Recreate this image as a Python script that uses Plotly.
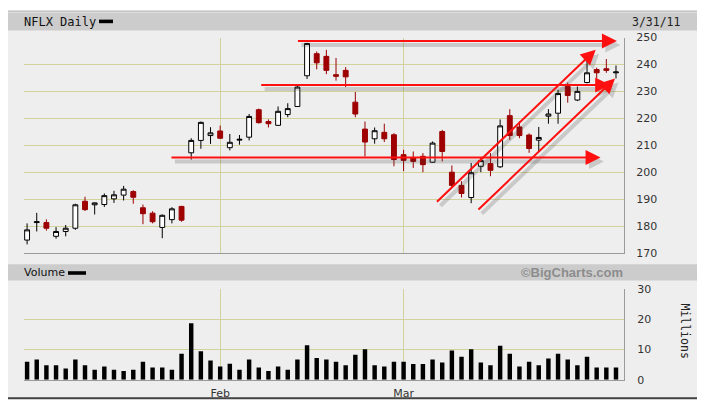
import plotly.graph_objects as go

# ---------------- data ----------------
dates = ["2011-01-03","2011-01-04","2011-01-05","2011-01-06","2011-01-07","2011-01-10","2011-01-11",
         "2011-01-12","2011-01-13","2011-01-14","2011-01-18","2011-01-19","2011-01-20","2011-01-21",
         "2011-01-24","2011-01-25","2011-01-26","2011-01-27","2011-01-28","2011-01-31",
         "2011-02-01","2011-02-02","2011-02-03","2011-02-04","2011-02-07","2011-02-08","2011-02-09",
         "2011-02-10","2011-02-11","2011-02-14","2011-02-15","2011-02-16","2011-02-17","2011-02-18",
         "2011-02-22","2011-02-23","2011-02-24","2011-02-25","2011-02-28",
         "2011-03-01","2011-03-02","2011-03-03","2011-03-04","2011-03-07","2011-03-08","2011-03-09",
         "2011-03-10","2011-03-11","2011-03-14","2011-03-15","2011-03-16","2011-03-17","2011-03-18",
         "2011-03-21","2011-03-22","2011-03-23","2011-03-24","2011-03-25","2011-03-28","2011-03-29",
         "2011-03-30","2011-03-31"]

opens  = [174.8,181.3,181.3,176.2,178.0,179.2,189.2,187.9,188.0,190.1,191.5,192.8,186.8,184.8,179.5,182.4,187.3,
          207.2,211.8,213.6,215.3,209.1,211.9,213.0,223.2,218.8,217.4,221.4,224.4,235.8,244.0,243.0,236.2,237.8,
          226.0,216.0,212.4,214.8,213.9,206.5,205.3,205.9,203.7,215.1,200.0,195.1,190.6,202.2,203.2,202.0,
          221.0,216.8,213.8,211.9,220.8,221.9,231.8,226.8,233.3,238.1,238.4,236.9]
highs  = [181.0,184.9,182.5,179.6,180.4,188.3,190.9,188.8,192.1,193.1,194.9,193.3,188.0,185.5,184.3,187.0,187.5,
          212.6,218.8,216.7,217.3,214.2,213.8,221.6,223.6,219.6,224.4,225.6,232.2,248.0,244.8,245.4,242.4,239.0,
          229.8,218.8,216.6,218.0,214.5,208.3,207.7,207.1,211.4,215.7,202.5,196.7,203.4,205.3,207.1,219.6,
          223.4,218.9,214.4,216.8,223.4,230.6,233.3,231.8,241.2,238.8,242.0,239.6]
lows   = [173.2,178.0,178.3,175.3,176.2,178.6,185.6,184.3,187.1,188.6,189.5,188.3,180.7,181.0,175.5,181.0,181.6,
          204.7,208.7,210.5,212.4,208.1,210.2,211.8,218.0,216.6,217.2,220.4,224.2,234.6,238.2,236.4,234.0,231.6,
          220.4,205.8,210.6,211.2,202.2,200.4,201.6,200.0,203.5,204.0,194.2,190.6,188.5,200.0,198.5,201.6,
          212.0,212.6,207.2,207.8,218.0,218.0,225.8,226.4,233.0,234.8,236.9,234.8]
closes = [178.6,181.6,179.2,178.0,179.2,187.9,186.1,188.6,191.3,191.6,193.7,190.7,184.6,181.6,184.0,186.4,182.2,
          211.8,218.5,214.6,212.6,211.1,212.2,220.7,218.4,218.0,222.6,223.6,231.6,247.8,240.6,237.8,235.6,235.4,
          221.6,211.2,215.4,212.4,204.7,204.4,204.0,202.8,210.8,207.7,195.1,192.1,199.8,204.3,200.7,217.2,
          213.6,213.6,208.8,212.9,221.6,229.2,228.5,230.0,236.9,236.9,237.8,237.2]
volume_millions = [6.0,6.7,4.8,4.8,3.7,6.7,4.8,3.3,4.4,3.3,2.9,3.3,6.0,4.1,4.1,3.3,8.6,18.7,9.4,6.4,
                   4.4,5.3,3.3,6.7,4.1,2.9,4.4,3.3,6.7,11.4,7.2,6.7,6.0,4.8,8.3,10.1,4.8,4.4,6.0,
                   6.0,5.2,5.2,6.7,5.7,9.7,7.6,10.1,5.7,4.8,11.3,8.6,4.4,6.0,4.8,7.0,8.6,6.7,4.8,7.6,4.1,4.1,4.1]

price_ticks = [170, 180, 190, 200, 210, 220, 230, 240, 250]
volume_ticks = [0, 10, 20, 30]
month_labels = ["Feb", "Mar"]

# trend lines drawn on the chart: (start index, start price, end index, end price)
trend_start_x = [27.9, 24.1, 14.8, 42.3, 46.6]
trend_start_y = [248.7, 232.4, 205.5, 188.5, 185.6]
trend_end_x   = [61.1, 60.4, 59.4, 58.9, 60.9]
trend_end_y   = [248.7, 232.4, 205.5, 245.5, 234.8]

# ---------------- figure ----------------
idx = list(range(len(dates)))
month_start_idx = [i for i in range(1, len(dates)) if dates[i][5:7] != dates[i - 1][5:7]]

# the page body adds an 8px margin; size the figure so it fits the 705x410 window
OX, OY = 8, 8
W, H = 705 - OX, 410 - OY
def xp(px): return (px - OX) / W
def yp(py): return 1 - (py - OY) / H

fig = go.Figure()
fig.add_trace(go.Candlestick(
    x=idx, open=opens, high=highs, low=lows, close=closes,
    increasing=dict(line=dict(color="#000000", width=1), fillcolor="#FFFFFF"),
    decreasing=dict(line=dict(color="#990000", width=1), fillcolor="#A00000"),
    whiskerwidth=0, xaxis="x", yaxis="y", showlegend=False, hoverinfo="skip"))
fig.add_trace(go.Bar(
    x=idx, y=volume_millions, marker=dict(color="#000000", line=dict(width=0)),
    width=0.46, xaxis="x2", yaxis="y2", showlegend=False, hoverinfo="skip"))

BG = "#EEEEEE"
PLOT_BG = "#FFFFE6"
GRID = "#D2D29C"
xrange_ = [-0.32, 61.83]

common_x = dict(range=xrange_, tickmode="array", tickvals=month_start_idx, ticktext=month_labels,
                showgrid=True, gridcolor=GRID, gridwidth=1, zeroline=False,
                showline=True, linecolor="#9A9A9A", linewidth=1, fixedrange=True)

fig.update_layout(
    width=W, height=H, margin=dict(l=0, r=0, t=0, b=0),
    paper_bgcolor="#FFFFFF", plot_bgcolor=PLOT_BG, boxgap=0.28,
    xaxis=dict(domain=[xp(24), xp(624)], anchor="y", showticklabels=False, ticks="",
               rangeslider=dict(visible=False), **common_x),
    yaxis=dict(domain=[yp(255), yp(32.3)], range=[170, 250], side="right", anchor="x",
               tickmode="array", tickvals=price_ticks, showgrid=True, gridcolor=GRID, zeroline=False,
               showline=True, linecolor="#9A9A9A", linewidth=1,
               ticks="outside", ticklen=9, tickcolor="rgba(0,0,0,0)",
               tickfont=dict(family="DejaVu Sans", size=11, color="#333333")),
    xaxis2=dict(domain=[xp(24), xp(624)], anchor="y2", showticklabels=True,
                ticks="outside", ticklen=3, tickcolor="rgba(0,0,0,0)",
                tickfont=dict(family="DejaVu Sans", size=11, color="#333333"), **common_x),
    yaxis2=dict(domain=[yp(386), yp(292.3)], range=[0, 30], side="right", anchor="x2",
                tickmode="array", tickvals=volume_ticks, showgrid=True, gridcolor=GRID, zeroline=False,
                showline=True, linecolor="#9A9A9A", linewidth=1,
                ticks="outside", ticklen=10, tickcolor="rgba(0,0,0,0)",
                tickfont=dict(family="DejaVu Sans", size=11, color="#333333")),
)

shapes = [
    # outer frame
    dict(type="rect", xref="paper", yref="paper", x0=xp(5), x1=xp(699), y0=yp(405), y1=yp(5),
         fillcolor=BG, line=dict(color="#A8A8A8", width=1), layer="below"),
    dict(type="line", xref="paper", yref="paper", x0=xp(699), x1=xp(699), y0=yp(406), y1=yp(5),
         line=dict(color="#444444", width=2), layer="below"),
    dict(type="line", xref="paper", yref="paper", x0=xp(5), x1=xp(700), y0=yp(405), y1=yp(405),
         line=dict(color="#444444", width=2), layer="below"),
    # header bands
    dict(type="rect", xref="paper", yref="paper", x0=xp(6), x1=xp(698), y0=yp(25), y1=yp(6.5),
         fillcolor="#CCCCCC", line=dict(width=0), layer="below"),
    dict(type="rect", xref="paper", yref="paper", x0=xp(6), x1=xp(698), y0=yp(283.5), y1=yp(266.5),
         fillcolor="#CCCCCC", line=dict(width=0), layer="below"),
    # legend swatches
    dict(type="rect", xref="paper", yref="paper", x0=xp(99), x1=xp(113), y0=yp(17.5), y1=yp(13.8),
         fillcolor="#000000", line=dict(width=0)),
    dict(type="rect", xref="paper", yref="paper", x0=xp(68), x1=xp(86), y0=yp(277.5), y1=yp(273.8),
         fillcolor="#000000", line=dict(width=0)),
]
fig.update_layout(shapes=shapes)

annotations = []
# soft shadows first
for x0, y0, x1, y1 in zip(trend_start_x, trend_start_y, trend_end_x, trend_end_y):
    annotations.append(dict(x=x1 + 0.35, y=y1 - 1.5, ax=x0 + 0.35, ay=y0 - 1.5,
                            xref="x", yref="y", axref="x", ayref="y", text="", showarrow=True,
                            arrowhead=2, arrowsize=0.75, arrowwidth=4,
                            arrowcolor="rgba(60,60,60,0.2)", standoff=0, startstandoff=0))
for x0, y0, x1, y1 in zip(trend_start_x, trend_start_y, trend_end_x, trend_end_y):
    annotations.append(dict(x=x1, y=y1, ax=x0, ay=y0,
                            xref="x", yref="y", axref="x", ayref="y", text="", showarrow=True,
                            arrowhead=2, arrowsize=1.5, arrowwidth=2,
                            arrowcolor="#FF1010", standoff=0, startstandoff=0))

annotations += [
    dict(x=xp(22), y=yp(16), xref="paper", yref="paper", text="NFLX Daily", showarrow=False,
         xanchor="left", yanchor="middle", font=dict(family="DejaVu Sans Mono", size=12, color="#111111")),
    dict(x=xp(683), y=yp(16), xref="paper", yref="paper", text="3/31/11", showarrow=False,
         xanchor="right", yanchor="middle", font=dict(family="DejaVu Sans Mono", size=11.5, color="#222222")),
    dict(x=xp(22), y=yp(275.5), xref="paper", yref="paper", text="Volume", showarrow=False,
         xanchor="left", yanchor="middle", font=dict(family="DejaVu Sans", size=11, color="#111111")),
    dict(x=xp(625), y=yp(275.5), xref="paper", yref="paper", text="©BigCharts.com", showarrow=False,
         xanchor="right", yanchor="middle",
         font=dict(family="Liberation Sans", size=13, color="#8C8C8C", weight="bold")),
    dict(x=xp(685), y=yp(335), xref="paper", yref="paper", text="Millions", showarrow=False,
         textangle=90, xanchor="center", yanchor="middle",
         font=dict(family="DejaVu Sans Mono", size=11.5, color="#222222")),
]
fig.update_layout(annotations=annotations)

fig.write_html("out.html")
